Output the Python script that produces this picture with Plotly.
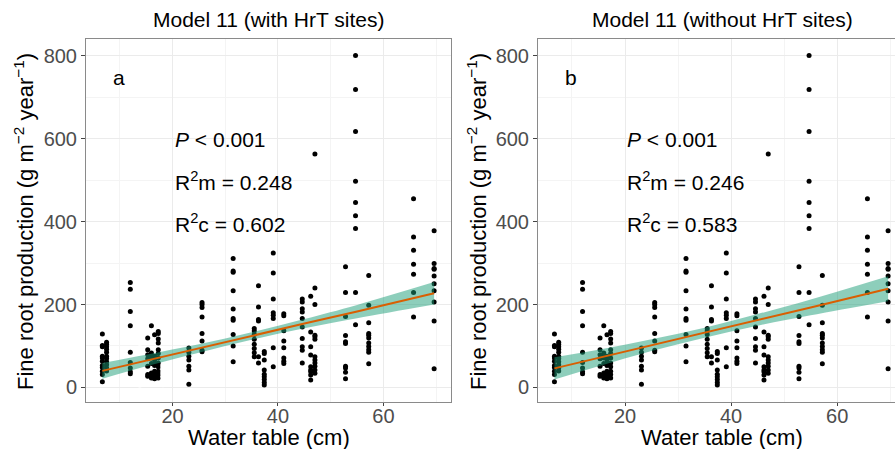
import plotly.graph_objects as go

# ---------------- data ----------------
# water-table columns (cm) and fine root production values (g m-2 yr-1) at each
filled_wt = [6.7, 7.5, 12.0, 15.3, 16.0, 16.6, 17.3, 23.1, 25.6, 31.5, 35.5, 36.3,
             37.4, 39.1, 41.1, 44.6, 46.2, 47.0, 52.8, 54.7, 57.2, 65.7, 69.6]
filled_frp = [
    [129, 101, 98, 75, 71, 63, 53, 48, 39, 31, 14],
    [109, 104, 98, 92, 85, 75, 70, 62, 55, 47, 40],
    [253, 237, 183, 149, 85, 60, 47, 38, 33],
    [119, 91, 79, 69, 51, 31, 27],
    [149, 83, 77, 71, 58, 35, 31, 27, 23],
    [127, 75, 67, 59, 53, 39, 34, 29, 25, 21],
    [135, 130, 117, 107, 91, 82, 71, 59, 50, 39, 31, 23],
    [95, 85, 75, 66, 51, 42, 8],
    [205, 200, 193, 170, 130, 112, 90, 86],
    [311, 281, 278, 233, 189, 166, 162, 128, 100, 62],
    [142, 136, 128, 116, 104, 94, 84, 74],
    [245, 194, 164, 160, 74, 59],
    [87, 82, 66, 42, 32, 26, 19, 12, 6],
    [324, 276, 213, 180, 174, 166, 96, 50],
    [178, 173, 137, 112, 96, 71, 63, 58],
    [213, 206, 190, 182, 166, 146, 118, 98, 90, 59],
    [220, 134, 98, 78, 50, 42, 38, 30, 18],
    [563, 240, 200, 126, 122, 116, 74, 66, 59, 51, 42, 34],
    [291, 229, 171, 125, 110, 106, 51, 47, 37, 21],
    [800, 718, 617, 497, 446, 414, 383, 229, 151],
    [270, 198, 156, 130, 126, 119, 107, 99, 91, 85, 57],
    [455, 363, 331, 297, 273, 229, 170],
    [378, 299, 287, 285, 269, 250, 233, 206, 160, 45],
]
# HrT sites (open circles, left panel only)
hrt_wt = [13.8, 18.2, 29.4, 51.2]
hrt_frp = [
    [96, 64, 31, 25, 19, 14, 10, 6],
    [50, 39, 32, 25, 18, 12, 7],
    [72, 54, 48, 40, 32, 24, 16],
    [191, 171, 139, 91, 67, 59, 52, 39, 25, 11],
]

# fitted lines and 95% confidence ribbons
fit_x = [6.7, 15, 25, 35, 45, 55, 69.6]
fit_a = [40, 65, 94, 124, 154, 183, 227]
lo_a = [21, 51, 84, 115, 143, 167, 200]
hi_a = [59, 79, 104, 133, 165, 199, 254]
fit_b = [46, 71, 102, 132, 163, 193, 238]
lo_b = [19, 51, 88, 120, 149, 174, 208]
hi_b = [73, 91, 116, 144, 177, 212, 268]

titles = ["Model 11 (with HrT sites)", "Model 11 (without HrT sites)"]
panel_tags = ["a", "b"]
p_text = "<i>P</i> &lt; 0.001"
r2m = ["0.248", "0.246"]
r2c = ["0.602", "0.583"]
x_ticks = [20, 40, 60]
y_ticks = [0, 200, 400, 600, 800]

# ---------------- helpers ----------------
def flatten(xs, ys):
    fx, fy = [], []
    for x, col in zip(xs, ys):
        for v in col:
            fx.append(x)
            fy.append(v)
    return fx, fy

fx, fy = flatten(filled_wt, filled_frp)
hx, hy = flatten(hrt_wt, hrt_frp)

FONT = "Liberation Sans, Arial, sans-serif"
W, H = 895, 449
fig = go.Figure()

BAND = "rgba(27,158,119,0.5)"
LINE = "#D95F02"

# left panel
fig.add_trace(go.Scatter(x=fx, y=fy, mode="markers", xaxis="x", yaxis="y",
                         marker=dict(color="black", size=5), showlegend=False))
fig.add_trace(go.Scatter(x=hx, y=hy, mode="markers", xaxis="x", yaxis="y",
                         marker=dict(color="white", size=4.5, symbol="circle-open",
                                     line=dict(color="black", width=0.9)),
                         showlegend=False))
fig.add_trace(go.Scatter(x=fit_x, y=lo_a, mode="lines", line=dict(width=0, shape="spline"),
                         xaxis="x", yaxis="y", showlegend=False))
fig.add_trace(go.Scatter(x=fit_x, y=hi_a, mode="lines", line=dict(width=0, shape="spline"),
                         fill="tonexty", fillcolor=BAND,
                         xaxis="x", yaxis="y", showlegend=False))
fig.add_trace(go.Scatter(x=fit_x, y=fit_a, mode="lines", line=dict(color=LINE, width=2),
                         xaxis="x", yaxis="y", showlegend=False))

# right panel
fig.add_trace(go.Scatter(x=fx, y=fy, mode="markers", xaxis="x2", yaxis="y2",
                         marker=dict(color="black", size=5), showlegend=False))
fig.add_trace(go.Scatter(x=fit_x, y=lo_b, mode="lines", line=dict(width=0, shape="spline"),
                         xaxis="x2", yaxis="y2", showlegend=False))
fig.add_trace(go.Scatter(x=fit_x, y=hi_b, mode="lines", line=dict(width=0, shape="spline"),
                         fill="tonexty", fillcolor=BAND,
                         xaxis="x2", yaxis="y2", showlegend=False))
fig.add_trace(go.Scatter(x=fit_x, y=fit_b, mode="lines", line=dict(color=LINE, width=2),
                         xaxis="x2", yaxis="y2", showlegend=False))

px2 = lambda p: p / W
py2 = lambda p: 1 - p / H

ydom = [py2(402), py2(39)]
common_x = dict(tickvals=x_ticks, ticks="outside", ticklen=3, tickcolor="#444",
                tickfont=dict(size=20, color="#4d4d4d", family=FONT),
                ticklabelstandoff=-7,
                showgrid=True, gridcolor="#ebebeb", gridwidth=1.1, zeroline=False,
                minor=dict(tickvals=[10, 30, 50, 70], showgrid=True, gridcolor="#f4f4f4",
                           gridwidth=0.6, ticks=""),
                showline=True, linecolor="#8a8a8a", linewidth=1)
common_y = dict(tickvals=y_ticks, ticks="outside", ticklen=4, tickcolor="#444",
                tickfont=dict(size=20, color="#4d4d4d", family=FONT),
                showgrid=True, gridcolor="#ebebeb", gridwidth=1.1, zeroline=False,
                minor=dict(tickvals=[100, 300, 500, 700], showgrid=True, gridcolor="#f4f4f4",
                           gridwidth=0.6, ticks=""),
                showline=True, linecolor="#8a8a8a", linewidth=1, range=[-35, 840])

fig.update_layout(
    width=W, height=H, margin=dict(l=0, r=0, t=0, b=0),
    paper_bgcolor="white", plot_bgcolor="white",
    font=dict(family=FONT, color="black"),
    xaxis=dict(domain=[px2(86), px2(451)], range=[3.6, 72.8], anchor="y", mirror=True, **common_x),
    yaxis=dict(domain=ydom, anchor="x", mirror=True, **common_y),
    xaxis2=dict(domain=[px2(538), 1.0], range=[3.6, 70.9], anchor="y2", mirror=True, **common_x),
    yaxis2=dict(domain=ydom, anchor="x2", mirror=False, **common_y),
)

ann = []
centers = [268.5, 722]
ytitle_x = [24, 477]
for i, ax in enumerate(["", "2"]):
    xr, yr = "x" + ax, "y" + ax
    ann.append(dict(text=titles[i], x=px2(centers[i]), y=py2(20), xref="paper", yref="paper",
                    showarrow=False, font=dict(size=21, family=FONT, color="black"),
                    xanchor="center", yanchor="middle"))
    ann.append(dict(text="Water table (cm)", x=px2(centers[i]), y=py2(437), xref="paper",
                    yref="paper", showarrow=False, font=dict(size=22, family=FONT, color="black"),
                    xanchor="center", yanchor="middle"))
    ann.append(dict(text="Fine root production (g m<sup>\u22122</sup> year<sup>\u22121</sup>)",
                    x=px2(ytitle_x[i]), y=py2(222), xref="paper", yref="paper",
                    textangle=-90, showarrow=False,
                    font=dict(size=22, family=FONT, color="black"),
                    xanchor="center", yanchor="middle"))
    ann.append(dict(text=panel_tags[i], x=8.3, y=748, xref=xr, yref=yr, showarrow=False,
                    font=dict(size=21, family=FONT, color="black"),
                    xanchor="left", yanchor="middle"))
    ann.append(dict(text=p_text, x=20, y=597, xref=xr, yref=yr, showarrow=False,
                    font=dict(size=21, family=FONT, color="black"),
                    xanchor="left", yanchor="middle"))
    ann.append(dict(text="R<sup>2</sup>m = " + r2m[i], x=20, y=497, xref=xr, yref=yr,
                    showarrow=False, font=dict(size=21, family=FONT, color="black"),
                    xanchor="left", yanchor="middle"))
    ann.append(dict(text="R<sup>2</sup>c = " + r2c[i], x=20, y=396, xref=xr, yref=yr,
                    showarrow=False, font=dict(size=21, family=FONT, color="black"),
                    xanchor="left", yanchor="middle"))
fig.update_layout(annotations=ann)

fig.write_html("out.html")
